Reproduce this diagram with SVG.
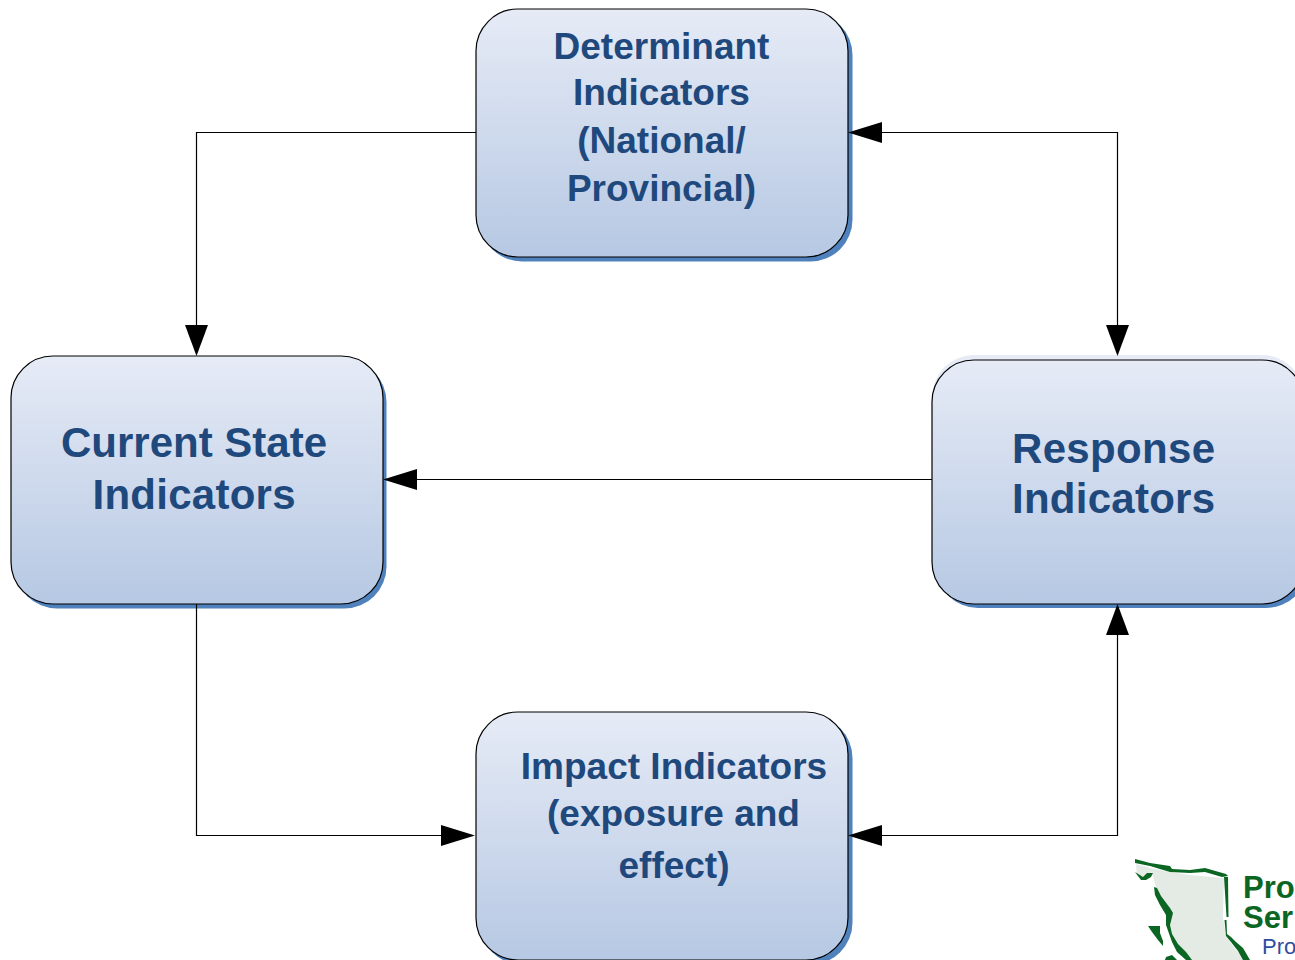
<svg xmlns="http://www.w3.org/2000/svg" width="1295" height="960" viewBox="0 0 1295 960">
<style>
.box{fill:url(#g);stroke:#000;stroke-width:1.2}
.sh{fill:#4f81bd}
.t{font-family:"Liberation Sans",Arial,sans-serif;font-weight:700;fill:#1f497d;text-anchor:middle}
.c{fill:none;stroke:#000;stroke-width:1.2}
.a{fill:#000}
.lg{fill:#0b6623}
.lt{font-family:"Liberation Sans",Arial,sans-serif;font-weight:700}
</style>
<defs>
<linearGradient id="g" x1="0" y1="0" x2="0" y2="1"><stop offset="0" stop-color="#e6ebf6"/><stop offset="1" stop-color="#b6c8e3"/></linearGradient>
</defs>
<rect width="1295" height="960" fill="#fff"/>
<g id="determinant">
<rect class="sh" x="480" y="13" width="372.500" height="248.500" rx="42"/>
<rect class="box" x="476" y="9" width="372" height="248" rx="42"/>
<text class="t" font-size="37" x="661.500" y="59">Determinant</text>
<text class="t" font-size="37" x="661.500" y="105">Indicators</text>
<text class="t" font-size="37" x="661.500" y="153">(National/</text>
<text class="t" font-size="37" x="661.500" y="201">Provincial)</text>
</g>
<g id="current-state">
<rect class="sh" x="15" y="360" width="371.500" height="248.500" rx="42"/>
<rect class="box" x="11" y="356" width="372" height="248" rx="42"/>
<text class="t" font-size="42" x="194" y="457">Current State</text>
<text class="t" font-size="42" x="194" y="509" textLength="203" lengthAdjust="spacing">Indicators</text>
</g>
<g id="response">
<rect x="932" y="355" width="372" height="100" rx="42" fill="#e6ebf6"/>
<rect class="sh" x="936" y="364" width="372" height="244" rx="42"/>
<rect class="box" x="932" y="360" width="372" height="244" rx="42"/>
<text class="t" font-size="42" x="1113.500" y="463" textLength="203" lengthAdjust="spacing">Response</text>
<text class="t" font-size="42" x="1113.500" y="513" textLength="203" lengthAdjust="spacing">Indicators</text>
</g>
<g id="impact">
<rect class="sh" x="480" y="716" width="372.500" height="248.500" rx="42"/>
<rect class="box" x="476" y="712" width="372" height="248" rx="42"/>
<text class="t" font-size="37" x="674" y="779">Impact Indicators</text>
<text class="t" font-size="37" x="673.500" y="826">(exposure and</text>
<text class="t" font-size="37" x="674" y="878">effect)</text>
</g>
<g id="connectors">
<path class="c" d="M476 132.500H196.500V330"/>
<path class="a" d="M185 325H208L196.500 356Z"/>
<path class="c" d="M875 132.500H1117.500V330"/>
<path class="a" d="M848 132.500L882 122V143Z"/>
<path class="a" d="M1106 325H1129L1117.500 356Z"/>
<path class="c" d="M932 479.500H410"/>
<path class="a" d="M383 479.500L417 469V490Z"/>
<path class="c" d="M196.500 604V835.500H450"/>
<path class="a" d="M475 835.500L441 825V846Z"/>
<path class="c" d="M875 835.500H1117.500V630"/>
<path class="a" d="M848 835.500L882 825V846Z"/>
<path class="a" d="M1117.500 604L1106 635H1129Z"/>
</g>
<g id="logo">
<path d="M1136 864L1150 868L1170 872L1190 875L1224 878L1223 917L1226 936L1236 950L1246 960H1190L1178 948L1170 932L1169 913L1158 895L1154 880L1152 872L1143 878L1137 876Z" fill="#e4ebe5"/>
<path class="lg" d="M1135 859L1150 863L1170 866L1172 869L1190 870L1205 868L1226 874L1228 876L1222 877L1205 872L1190 873L1170 872L1150 866L1135 863Z"/>
<path class="lg" d="M1224 877H1228L1228.500 917L1226.500 917Z"/>
<path class="lg" d="M1224.500 920H1226.500L1227 934L1231 937L1236 942L1243 948L1250 960H1243L1238 951L1231 942L1226 936Z"/>
<path class="lg" d="M1135 872L1143 877L1147 873L1153 873L1151 877L1146 880L1141 880Z"/>
<path class="lg" d="M1154 887L1157 888L1161 896L1170 908L1173 913L1170 925L1172 934L1178 944L1186 952L1192 960H1186L1177 952L1172 942L1166 925L1166 915L1160 905L1155 895Z"/>
<path class="lg" d="M1148 926L1160 926L1160 933L1163 941L1163 946L1158 940L1152 932Z"/>
<path class="lg" d="M1166 957L1172 955L1177 960H1165Z"/>
<text class="lt" fill="#0b6623" font-size="31" x="1243" y="898">Pro</text>
<text class="lt" fill="#0b6623" font-size="31" x="1243" y="928">Ser</text>
<text class="lt" fill="#2f4da0" font-size="22" x="1262" y="954" style="font-weight:400">Pro</text>
</g>
</svg>
